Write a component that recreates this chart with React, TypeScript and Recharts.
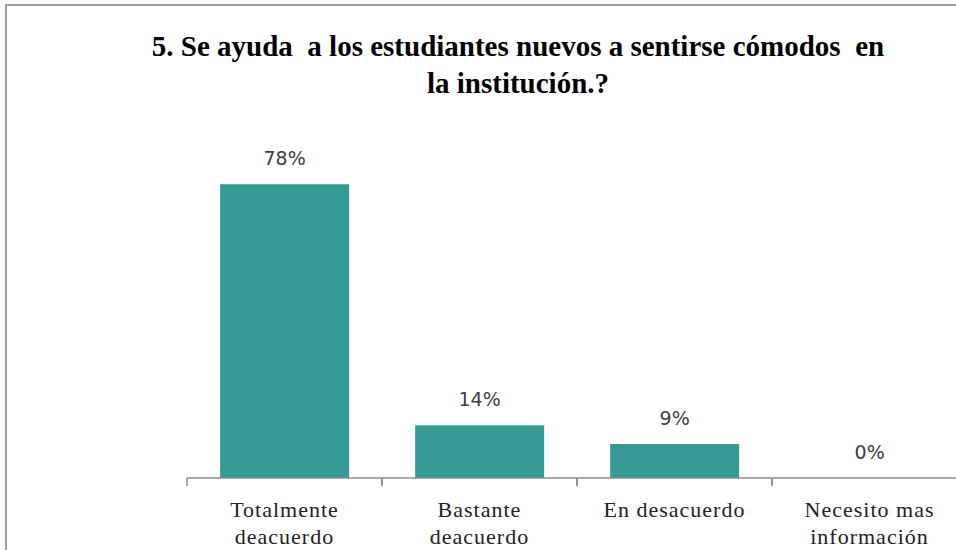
import { BarChart, Bar, XAxis, YAxis, LabelList } from "recharts";

const categories = [
  "Totalmente\ndeacuerdo",
  "Bastante\ndeacuerdo",
  "En desacuerdo",
  "Necesito mas\ninformación",
];
const percentages = [78, 14, 9, 0];
const titleLines = [
  "5. Se ayuda  a los estudiantes nuevos a sentirse cómodos  en",
  "la institución.?",
];

const data = categories.map((name, i) => ({ name, value: percentages[i] }));

const SERIF = "'Liberation Serif', 'Times New Roman', Tinos, 'DejaVu Serif', 'Noto Serif', serif";

// category label plus the boundary tick marks Excel draws between bars
function CategoryTick(props: any) {
  const { x, y, payload } = props;
  const half = payload?.offset || 97.5;
  const lines = String(payload.value).split("\n");
  return (
    <g>
      <line x1={x - half} x2={x - half} y1={y} y2={y + 8} stroke="#8c8c8c" strokeWidth={1.5} />
      <line x1={x + half} x2={x + half} y1={y} y2={y + 8} stroke="#8c8c8c" strokeWidth={1.5} />
      <text
        textAnchor="middle"
        style={{ fontFamily: SERIF, fontSize: 22, letterSpacing: 1 }}
        fill="#222"
      >
        {lines.map((l, i) => (
          <tspan key={i} x={x} y={y + 39 + i * 27}>
            {l}
          </tspan>
        ))}
      </text>
    </g>
  );
}

export default function App() {
  return (
    <div
      style={{
        position: "absolute",
        left: 0,
        top: 0,
        width: 956,
        height: 550,
        overflow: "hidden",
        background: "#fff",
      }}
    >
      <div
        style={{
          position: "absolute",
          left: 5,
          top: 4,
          width: 1200,
          height: 800,
          border: "2px solid #9d9d9d",
        }}
      />
      <div
        style={{
          position: "absolute",
          left: 0,
          top: 28,
          width: 1036,
          textAlign: "center",
          fontFamily: SERIF,
          fontWeight: "bold",
          fontSize: 29,
          lineHeight: "37px",
          whiteSpace: "pre",
          color: "#000",
        }}
      >
        {titleLines.join("\n")}
      </div>
      <div style={{ position: "absolute", left: 0, top: 0 }}>
        <BarChart
          width={967}
          height={550}
          data={data}
          margin={{ top: 139, right: 0, left: 187, bottom: 0 }}
          barCategoryGap="17%"
        >
          <YAxis hide domain={[0, 90]} />
          <XAxis
            dataKey="name"
            interval={0}
            height={72}
            tickSize={0}
            tickMargin={0}
            tickLine={false}
            axisLine={{ stroke: "#8c8c8c", strokeWidth: 1.5 }}
            tick={<CategoryTick />}
          />
          <Bar dataKey="value" fill="#339b94" minPointSize={0.1} isAnimationActive={false}>
            <LabelList
              dataKey="value"
              position="top"
              offset={19}
              formatter={(v: any) => `${v}%`}
              fill="#404040"
              fontSize={19}
              fontFamily="DejaVu Sans"
            />
          </Bar>
        </BarChart>
      </div>
    </div>
  );
}
